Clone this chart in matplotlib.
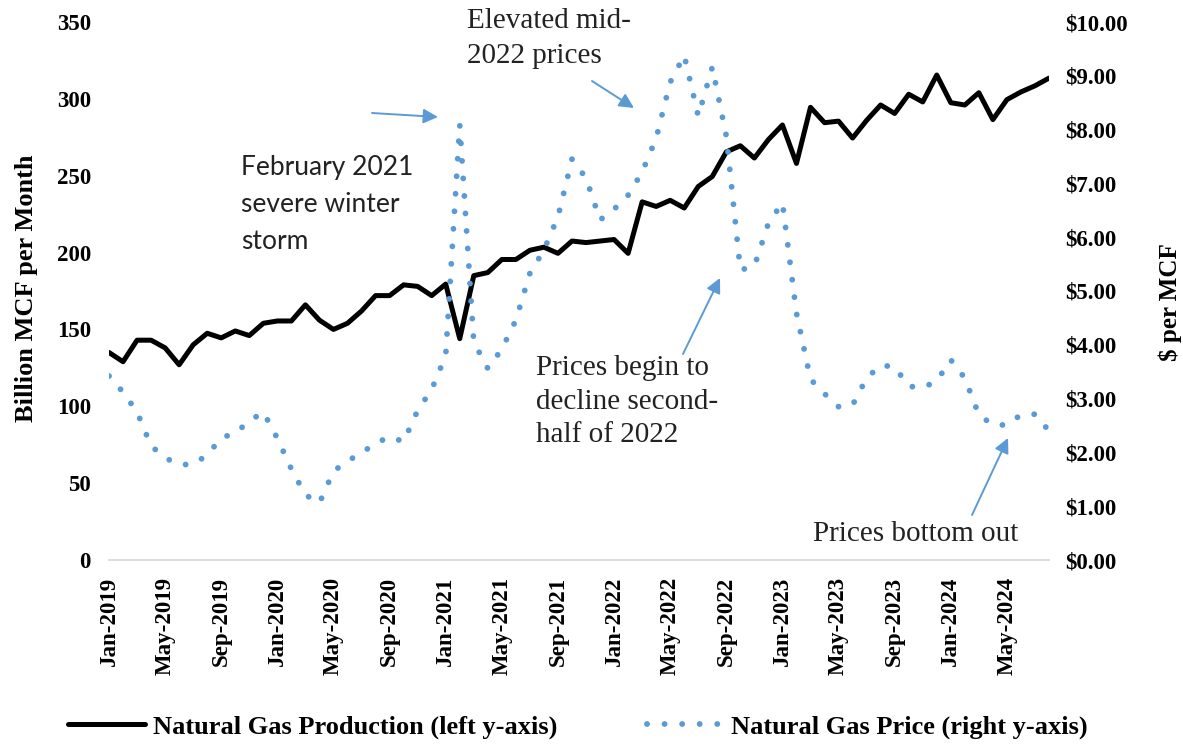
import matplotlib
matplotlib.use("Agg")
import matplotlib.pyplot as plt
import pandas as pd

# ---------------- data ----------------
months = pd.date_range("2019-01-01", periods=68, freq="MS")
month_labels = [d.strftime("%b-%Y") for d in months]

production = [135, 129, 143, 143, 138, 127, 140, 147.5, 144.5, 149, 146, 154,
              155.5, 155.5, 166, 156, 150, 154, 162, 172, 172, 179, 178, 172,
              179.5, 144, 185, 187, 195.5, 195.5, 201.5, 203.5, 199.5, 207.5, 206.5, 207.5,
              208.5, 199.5, 233, 230, 234, 229, 243, 249.5, 265.5, 269.5, 261.5, 273.5,
              283, 258, 294.5, 284.5, 285.5, 274.5, 286, 296, 290.5, 303, 298, 315.5,
              297.5, 296, 304, 286.5, 299.5, 304.5, 308.5, 313.5]

price = [3.42, 3.12, 2.75, 2.12, 1.90, 1.77, 1.78, 1.95, 2.27, 2.36, 2.58, 2.75,
         2.26, 1.69, 1.21, 1.06, 1.65, 1.84, 1.99, 2.17, 2.29, 2.20, 2.78, 3.17,
         3.80, 8.09, 4.05, 3.56, 3.92, 4.46, 5.33, 5.76, 6.38, 7.45, 7.10, 6.32,
         6.52, 6.78, 7.21, 7.84, 8.88, 9.38, 8.25, 9.16, 7.88, 5.39, 5.46, 6.26,
         6.64, 4.59, 3.36, 3.09, 2.85, 2.88, 3.38, 3.62, 3.59, 3.23, 3.20, 3.33,
         3.72, 3.38, 2.70, 2.51, 2.51, 2.70, 2.71, 2.40]

left_ticks = [0, 50, 100, 150, 200, 250, 300, 350]
right_ticks = [0, 1, 2, 3, 4, 5, 6, 7, 8, 9, 10]
right_tick_labels = [f"${v:.2f}" for v in right_ticks]

series_labels = ["Natural Gas Production (left y-axis)", "Natural Gas Price (right y-axis)"]
ylabel_left = "Billion MCF per Month"
ylabel_right = "$ per MCF"

# ---------------- style ----------------
plt.rcParams["font.family"] = ["Liberation Serif", "DejaVu Serif"]
BLUE = "#5b9bd5"
W, H = 1183, 744

fig = plt.figure(figsize=(W / 100, H / 100), dpi=100)
ax = fig.add_axes([109 / W, (H - 560) / H, (1049 - 109) / W, (560 - 22) / H])
ax2 = ax.twinx()

x = list(range(len(months)))
l1, = ax.plot(x, production, color="black", lw=3.6, solid_joinstyle="round",
              solid_capstyle="round", zorder=3)
l2, = ax2.plot(x, price, color=BLUE, lw=4.2, linestyle=(0, (0.01, 3.0)),
               dash_capstyle="round", zorder=3)

ax.set_xlim(0, len(months) - 1)
ax.set_ylim(0, 350)
ax2.set_ylim(0, 10)

tick_pos = x[::4]
ax.set_xticks(tick_pos)
ax.set_xticklabels([month_labels[i] for i in tick_pos], rotation=90,
                   fontsize=16.5, fontweight="bold")
ax.set_yticks(left_ticks)
ax.set_yticklabels([str(v) for v in left_ticks], fontsize=16.5, fontweight="bold")
ax2.set_yticks(right_ticks)
ax2.set_yticklabels(right_tick_labels, fontsize=16.5, fontweight="bold")

ax.tick_params(axis="x", length=0, pad=12)
ax.tick_params(axis="y", length=0, pad=13)
ax2.tick_params(axis="y", length=0, pad=12)

for s in ["top", "left", "right"]:
    ax.spines[s].set_visible(False)
ax.spines["bottom"].set_color("#d9d9d9")
ax.spines["bottom"].set_linewidth(1.3)
for s in ax2.spines.values():
    s.set_visible(False)

fig.text(27 / W, 1 - 288 / H, ylabel_left, rotation=90, ha="center", va="center",
         fontsize=19, fontweight="bold")
fig.text(1170 / W, 1 - 302 / H, ylabel_right, rotation=90, ha="center", va="center",
         fontsize=18, fontweight="bold")

# ---------------- annotations ----------------
def fp(px, py):
    return (px, H - py)

fig.text(241 / W, 1 - 155 / H, "February 2021\nsevere winter\nstorm", ha="left", va="top",
         fontsize=19, family=["Lato", "DejaVu Sans"], color="#222222", linespacing=1.6)
fig.text(467 / W, 1 - 8 / H, "Elevated mid-\n2022 prices", ha="left", va="top",
         fontsize=21, color="#222222", linespacing=1.45)
fig.text(536 / W, 1 - 355 / H, "Prices begin to\ndecline second-\nhalf of 2022", ha="left",
         va="top", fontsize=21, color="#222222", linespacing=1.38)
fig.text(813 / W, 1 - 534 / H, "Prices bottom out", ha="left", va="center",
         fontsize=21, color="#222222")

arrows = [((372, 113), (438, 117)),
          ((592, 81), (634, 108)),
          ((683, 354), (720, 278)),
          ((972, 515), (1008, 438))]
for (tx, ty), (hx, hy) in arrows:
    ax.annotate("", xy=fp(hx, hy), xycoords="figure pixels",
                xytext=fp(tx, ty), textcoords="figure pixels",
                arrowprops=dict(arrowstyle="-|>", color=BLUE, lw=1.4,
                                mutation_scale=22, shrinkA=0, shrinkB=0))

# ---------------- legend ----------------
fig.legend([l1, l2], series_labels, loc="center", bbox_to_anchor=(578 / W, 17 / H),
           ncol=2, frameon=False, handlelength=2.9, handletextpad=0.3,
           columnspacing=3.4, prop={"weight": "bold", "size": 19})

fig.savefig("out.png", dpi=100)
